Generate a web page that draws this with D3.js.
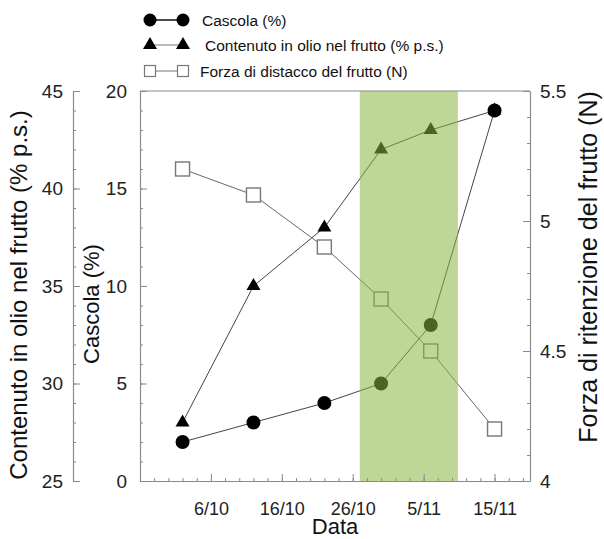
<!DOCTYPE html>
<html><head><meta charset="utf-8">
<script src="https://cdn.jsdelivr.net/npm/d3@7"></script>
<style>body{margin:0;background:#fff}svg{display:block;font-family:"Liberation Sans",Arial,sans-serif}</style>
</head><body><svg id="c" width="604" height="539"></svg>
<script>
// ---- data ----
const dates = ["2010-10-02","2010-10-12","2010-10-22","2010-10-30","2010-11-06","2010-11-15"];
const cascola = [2, 3, 4, 5, 8, 19];
const olio = [28, 35, 38, 42, 43, 44];
const forza = [5.2, 5.1, 4.9, 4.7, 4.5, 4.2];
const bandDates = ["2010-10-27","2010-11-09T20:00"];
const xTickLabels = ["6/10","16/10","26/10","5/11","15/11"];
const xDomain = ["2010-09-26","2010-11-20"];
const legendLabels = ["Cascola (%)","Contenuto in olio nel frutto (% p.s.)","Forza di distacco del frutto (N)"];

const parse = s => new Date(s + (s.length===10 ? "T00:00" : ""));
const svg = d3.select("#c");
const L=140,R=530,T=91,B=481;
const x = d3.scaleTime().domain(xDomain.map(parse)).range([L,R]);
const yC = d3.scaleLinear().domain([0,20]).range([B,T]);
const yO = d3.scaleLinear().domain([25,45]).range([B,T]);
const yF = d3.scaleLinear().domain([4,5.5]).range([B,T]);
const axisCol = "#8a8a8a";
const pts = dates.map(parse);

function styleAxis(g, fs){
  g.selectAll(".domain").attr("stroke",axisCol).attr("stroke-width",1.2);
  g.selectAll(".tick line").attr("stroke",axisCol);
  g.selectAll("text").attr("fill","#222").style("font-size",fs+"px").style("font-family","Liberation Sans, Arial, sans-serif");
}

// data lines & markers
const lineCol="#444";
svg.append("path").datum(d3.zip(pts,olio)).attr("fill","none").attr("stroke",lineCol).attr("stroke-width",1)
  .attr("d",d3.line().x(d=>x(d[0])).y(d=>yO(d[1])));
svg.append("path").datum(d3.zip(pts,forza)).attr("fill","none").attr("stroke","#666").attr("stroke-width",1)
  .attr("d",d3.line().x(d=>x(d[0])).y(d=>yF(d[1])));
svg.append("path").datum(d3.zip(pts,cascola)).attr("fill","none").attr("stroke",lineCol).attr("stroke-width",1)
  .attr("d",d3.line().x(d=>x(d[0])).y(d=>yC(d[1])));

const tri = d3.symbol().type(d3.symbolTriangle).size(85);
svg.selectAll(".tri").data(d3.zip(pts,olio)).join("path")
  .attr("transform",d=>`translate(${x(d[0])},${yO(d[1])})`).attr("d",tri).attr("fill","#000");
svg.selectAll(".sq").data(d3.zip(pts,forza)).join("rect")
  .attr("x",d=>x(d[0])-7).attr("y",d=>yF(d[1])-7).attr("width",14).attr("height",14)
  .attr("fill","#fff").attr("stroke","#777").attr("stroke-width",1.4);
svg.selectAll(".ci").data(d3.zip(pts,cascola)).join("circle")
  .attr("cx",d=>x(d[0])).attr("cy",d=>yC(d[1])).attr("r",7).attr("fill","#000");

// green band overlay
const bd = bandDates.map(parse);
svg.append("rect").attr("x",x(bd[0])).attr("y",T).attr("width",x(bd[1])-x(bd[0])).attr("height",B-T)
  .attr("fill","rgb(136,182,64)").attr("fill-opacity",0.55);

// top border
svg.append("line").attr("x1",L).attr("x2",R).attr("y1",T).attr("y2",T).attr("stroke",axisCol).attr("stroke-width",1.2);

// x axis
const x0 = parse(xDomain[0]);
const minorX = d3.range(0,56,2).map(k=>d3.timeDay.offset(x0,k)).filter(d=>d<=x.domain()[1]);
const majorX = xTickLabels.map(s=>{const [d,m]=s.split("/").map(Number);return new Date(2010,m-1,d);});
svg.append("g").attr("transform",`translate(0,${B})`)
  .call(d3.axisBottom(x).tickValues(minorX).tickSizeInner(-3).tickSizeOuter(0).tickFormat(""))
  .call(g=>styleAxis(g,18));
svg.append("g").attr("transform",`translate(0,${B})`)
  .call(d3.axisBottom(x).tickValues(majorX).tickSizeInner(-7).tickSizeOuter(0).tickPadding(21)
     .tickFormat((d,i)=>xTickLabels[i]))
  .call(g=>{g.select(".domain").remove();styleAxis(g,18);});

// inner left axis (Cascola)
svg.append("g").attr("transform",`translate(${L},0)`)
  .call(d3.axisLeft(yC).tickValues(d3.range(0,21,1)).tickSizeInner(-3).tickSizeOuter(0).tickFormat(""))
  .call(g=>styleAxis(g,18));
svg.append("g").attr("transform",`translate(${L},0)`)
  .call(d3.axisLeft(yC).tickValues([0,5,10,15,20]).tickSizeInner(-7).tickSizeOuter(0).tickPadding(13))
  .call(g=>{g.select(".domain").remove();styleAxis(g,19);});

// outer left axis (olio)
const OX=73;
svg.append("g").attr("transform",`translate(${OX},0)`)
  .call(d3.axisLeft(yO).tickValues(d3.range(25,46,1)).tickSizeInner(-3).tickSizeOuter(0).tickFormat(""))
  .call(g=>styleAxis(g,18));
svg.append("g").attr("transform",`translate(${OX},0)`)
  .call(d3.axisLeft(yO).tickValues([25,30,35,40,45]).tickSizeInner(-7).tickSizeOuter(0).tickPadding(10))
  .call(g=>{g.select(".domain").remove();styleAxis(g,19);});

// right axis (forza)
svg.append("g").attr("transform",`translate(${R},0)`)
  .call(d3.axisRight(yF).tickValues(d3.range(40,56,1).map(v=>v/10)).tickSizeInner(-3).tickSizeOuter(0).tickFormat(""))
  .call(g=>styleAxis(g,18));
svg.append("g").attr("transform",`translate(${R},0)`)
  .call(d3.axisRight(yF).tickValues([4,4.5,5,5.5]).tickSizeInner(-7).tickSizeOuter(0).tickPadding(10).tickFormat(d3.format("")))
  .call(g=>{g.select(".domain").remove();styleAxis(g,19);});

// axis titles
const title=(txt,tx,ty,rot,fs)=>svg.append("text").attr("transform",`translate(${tx},${ty}) rotate(${rot})`)
  .attr("text-anchor","middle").attr("fill","#111").style("font-size",fs+"px").text(txt);
title("Contenuto in olio nel frutto (% p.s.)",27,295,-90,24);
title("Cascola (%)",99,304,-90,22);
title("Forza di ritenzione del frutto (N)",597,267,-90,25);
title("Data",335,534,0,22);

// legend
const lg = svg.append("g");
const rows=[20,45,71], mx=[150,183], tx=[202,205,200];
lg.append("line").attr("x1",mx[0]).attr("x2",mx[1]).attr("y1",rows[0]).attr("y2",rows[0]).attr("stroke","#111").attr("stroke-width",1.3);
mx.forEach(m=>lg.append("circle").attr("cx",m).attr("cy",rows[0]).attr("r",6.5).attr("fill","#000"));
lg.append("line").attr("x1",mx[0]).attr("x2",mx[1]).attr("y1",rows[1]).attr("y2",rows[1]).attr("stroke","#777").attr("stroke-width",1);
mx.forEach(m=>lg.append("path").attr("transform",`translate(${m},${rows[1]})`).attr("d",tri).attr("fill","#000"));
lg.append("line").attr("x1",mx[0]).attr("x2",mx[1]).attr("y1",rows[2]).attr("y2",rows[2]).attr("stroke","#777").attr("stroke-width",1);
mx.forEach(m=>lg.append("rect").attr("x",m-5.5).attr("y",rows[2]-5.5).attr("width",11).attr("height",11).attr("fill","#fff").attr("stroke","#777").attr("stroke-width",1.2));
legendLabels.forEach((t,i)=>lg.append("text").attr("x",tx[i]).attr("y",rows[i]+5.5).attr("fill","#111").style("font-size","15.5px").text(t));
</script></body></html>
